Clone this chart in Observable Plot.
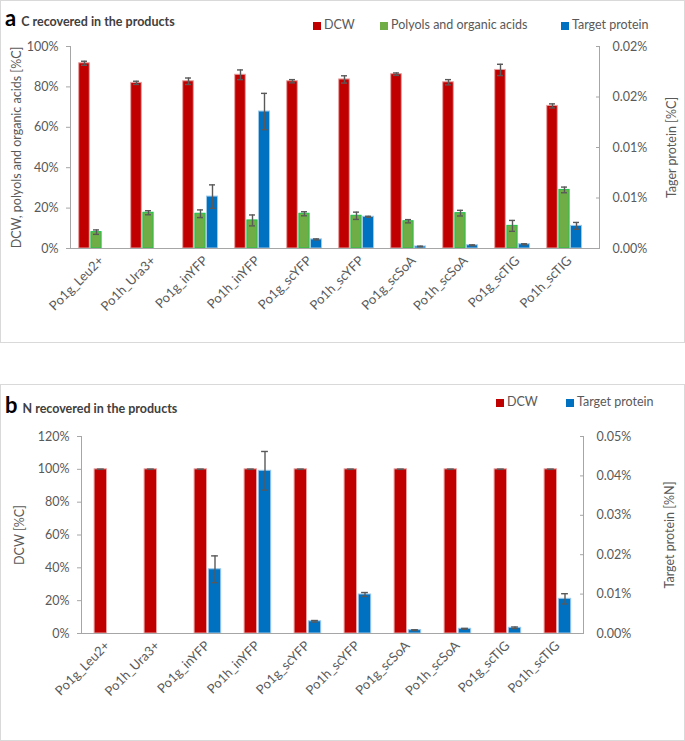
<!DOCTYPE html>
<html><head><meta charset="utf-8">
<script src="https://cdn.jsdelivr.net/npm/d3@7"></script>
<script src="https://cdn.jsdelivr.net/npm/@observablehq/plot@0.6"></script>
<style>
body{margin:0;background:#fff;font-family:Lato,"Open Sans",sans-serif;}
#page{position:relative;width:685px;height:741px;overflow:hidden;}
.panel{position:absolute;left:0;width:683px;border:1px solid #d9d9d9;background:#fff;}
.chart{position:absolute;left:0;}
.title{position:absolute;left:5px;font-weight:bold;color:#404040;font-size:12.5px;white-space:nowrap;}
.title .lt{font-size:22px;color:#000;margin-right:5px;}
.legend{position:absolute;font-size:12.5px;color:#595959;white-space:nowrap;}
.legend span.item{position:absolute;white-space:nowrap;}
.sw{display:inline-block;width:8px;height:8px;margin-right:3px;vertical-align:-0.5px;}
</style>
</head><body>
<div id="page">
  <div class="panel" style="top:0;height:341px;"></div>
  <div class="panel" style="top:384px;height:355px;"></div>
  <div id="chartA" class="chart" style="top:0"></div>
  <div id="chartB" class="chart" style="top:380px"></div>
  <div class="title" style="top:4px"><span class="lt">a</span>C recovered in the products</div>
  <div class="title" style="top:391px"><span class="lt">b</span>N recovered in the products</div>
  <div id="legA" class="legend" style="top:17px;left:0"></div>
  <div id="legB" class="legend" style="top:394px;left:0"></div>
</div>
<script>
// ---------- data ----------
const strains = ["Po1g_Leu2+","Po1h_Ura3+","Po1g_inYFP","Po1h_inYFP","Po1g_scYFP","Po1h_scYFP","Po1g_scSoA","Po1h_scSoA","Po1g_scTIG","Po1h_scTIG"];

// Panel a: C recovered (%C)
const dcwC      = [91.7, 82.0, 82.8, 86.0, 82.8, 83.7, 86.3, 82.3, 88.4, 70.6];
const dcwCErr   = [1.0, 0.8, 1.6, 2.4, 0.8, 1.8, 0.6, 1.3, 2.8, 1.0];
const polC      = [8.1, 17.7, 17.2, 13.9, 17.2, 16.2, 13.5, 17.5, 11.2, 29.0];
const polCErr   = [1.1, 1.0, 1.9, 2.7, 1.0, 1.8, 0.8, 1.4, 2.7, 1.4];
const protC     = [null, null, 0.00514, 0.01356, 0.0009, 0.00314, 0.0002, 0.00032, 0.00042, 0.00224];
const protCErr  = [0, 0, 0.00116, 0.0018, 0.00005, 0.00005, 0.00003, 0.00004, 0.00005, 0.00034];

// Panel b: N recovered
const dcwN      = [100, 100, 100, 100, 100, 100, 100, 100, 100, 100];
const dcwNErr   = [0, 0, 0, 0, 0, 0, 0, 0, 0, 0];
const protN     = [null, null, 0.0163, 0.0413, 0.0031, 0.0099, 0.00085, 0.0012, 0.00145, 0.0088];
const protNErr  = [0, 0, 0.0034, 0.0049, 0.0002, 0.0005, 0.0001, 0.0001, 0.0002, 0.0013];

// ticks
const leftTicksC = [0, 20, 40, 60, 80, 100];
const rightTicksC = [0, 0.005, 0.01, 0.015, 0.02];
const rightLabelsC = ["0.00%", "0.01%", "0.01%", "0.02%", "0.02%"];
const leftTicksN = [0, 20, 40, 60, 80, 100, 120];
const rightTicksN = [0, 0.01, 0.02, 0.03, 0.04, 0.05];
const rightLabelsN = ["0.00%", "0.01%", "0.02%", "0.03%", "0.04%", "0.05%"];

const seriesA = ["DCW", "Polyols and organic acids", "Target protein"];
const seriesB = ["DCW", "Target protein"];

// ---------- style ----------
const col = {
  "DCW": {fill: "#C00000", stroke: "#E8A0A0"},
  "Polyols and organic acids": {fill: "#70AD47", stroke: "#1DC14A"},
  "Target protein": {fill: "#0070C0", stroke: "#9CC9EA"}
};
const axisGray = "#A6A6A6";
const errGray = "#595959";
const FONT = "Lato, 'Open Sans', sans-serif";

function rows(values, errs, k) {
  return strains.map((s, i) => values[i] == null ? null : ({
    strain: s,
    v: values[i] * k,
    lo: (values[i] - errs[i]) * k,
    hi: (values[i] + errs[i]) * k
  })).filter(d => d);
}
function series(data, name, dx, inset, cap) {
  const c = col[name];
  return [
    Plot.barY(data, {x: "strain", y: "v", fill: c.fill, stroke: c.stroke, strokeWidth: 1, dx, insetLeft: inset, insetRight: inset}),
    Plot.ruleX(data, {x: "strain", y1: "lo", y2: "hi", stroke: errGray, strokeWidth: 1.4, dx}),
    Plot.tickY(data, {x: "strain", y: "lo", stroke: errGray, strokeWidth: 1.4, dx, insetLeft: cap, insetRight: cap}),
    Plot.tickY(data, {x: "strain", y: "hi", stroke: errGray, strokeWidth: 1.4, dx, insetLeft: cap, insetRight: cap})
  ];
}
function nearestLabel(ticks, labels) {
  return d => labels[d3.minIndex(ticks, t => Math.abs(t - d))];
}

function panel({height, mt, mb, ml, mr, yMax, k, leftTicks, rightTicks, rightLabels, leftLabel, rightLabel, leftOff, rightOff, marks}) {
  const rt = rightTicks.map(v => v * k);
  return Plot.plot({
    width: 685, height,
    marginTop: mt, marginBottom: mb, marginLeft: ml, marginRight: mr,
    style: {fontFamily: FONT, fontSize: "12.5px", color: "#595959", background: "transparent", overflow: "visible"},
    x: {type: "band", domain: strains, padding: 0, axis: null},
    y: {domain: [0, yMax], axis: null},
    marks: [
      ...marks,
      Plot.frame({anchor: "left", stroke: axisGray}),
      Plot.frame({anchor: "right", stroke: axisGray}),
      Plot.frame({anchor: "bottom", stroke: axisGray}),
      Plot.axisX({anchor: "bottom", tickRotate: -45, tickSize: 0, tickPadding: 10, fontSize: 13, label: null}),
      Plot.axisY({anchor: "left", ticks: leftTicks, tickFormat: d => d + "%", tickSize: 4, tickPadding: 8, stroke: axisGray,
        label: leftLabel, labelAnchor: "center", labelOffset: leftOff, labelArrow: "none", fontSize: 12.5}),
      Plot.axisY({anchor: "right", ticks: rt, tickFormat: nearestLabel(rt, rightLabels), tickSize: 4, dx: -4, tickPadding: 13, stroke: axisGray,
        label: rightLabel, labelAnchor: "center", labelOffset: rightOff, labelArrow: "none", fontSize: 12.5})
    ]
  });
}

// ---------- panel a ----------
const kC = 100 / 0.02;
const chartA = panel({
  height: 340, mt: 46, mb: 92, ml: 70, mr: 86, yMax: 100, k: kC,
  leftTicks: leftTicksC, rightTicks: rightTicksC, rightLabels: rightLabelsC,
  leftLabel: "DCW, polyols and organic acids [%C]", rightLabel: "Tager protein [%C]",
  leftOff: 58, rightOff: 76,
  marks: [
    ...series(rows(dcwC, dcwCErr, 1), "DCW", -17, 20.7, 23),
    ...series(rows(polC, polCErr, 1), "Polyols and organic acids", -5, 20.9, 23),
    ...series(rows(protC, protCErr, kC), "Target protein", 7, 20.5, 23)
  ]
});
document.getElementById("chartA").appendChild(chartA);

// ---------- panel b ----------
const kN = 120 / 0.05;
const chartB = panel({
  height: 361, mt: 56, mb: 108, ml: 81, mr: 102, yMax: 120, k: kN,
  leftTicks: leftTicksN, rightTicks: rightTicksN, rightLabels: rightLabelsN,
  leftLabel: "DCW [%C]", rightLabel: "Target protein [%N]",
  leftOff: 66, rightOff: 90,
  marks: [
    ...series(rows(dcwN, dcwNErr, 1), "DCW", -6.7, 18.8, 21.6),
    ...series(rows(protN, protNErr, kN), "Target protein", 7.5, 18.8, 21.6)
  ]
});
document.getElementById("chartB").appendChild(chartB);

// ---------- legends ----------
function legend(id, names, xs) {
  const el = document.getElementById(id);
  names.forEach((n, i) => {
    const s = document.createElement("span");
    s.className = "item";
    s.style.left = xs[i] + "px";
    s.innerHTML = `<span class="sw" style="background:${col[n].fill}"></span>${n}`;
    el.appendChild(s);
  });
}
legend("legA", seriesA, [313, 380, 561]);
legend("legB", seriesB, [496, 566]);
</script>
</body></html>
